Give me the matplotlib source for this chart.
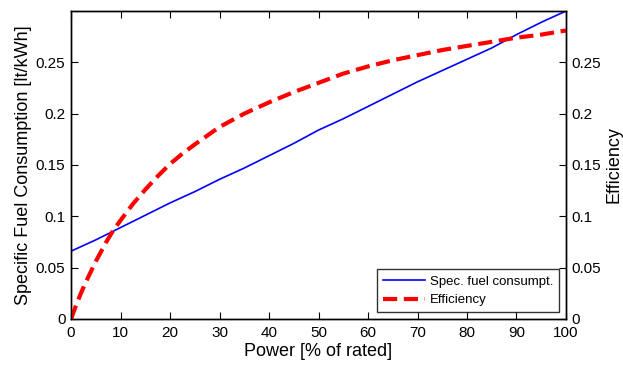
import matplotlib
matplotlib.use("Agg")
import matplotlib.pyplot as plt
import numpy as np

plt.rcParams['font.family'] = ['Liberation Sans', 'DejaVu Sans']

power = [0, 5, 10, 15, 20, 25, 30, 35, 40, 45, 50, 55, 60, 65, 70, 75, 80, 85, 90, 95, 100]
sfc = [0.066, 0.077, 0.089, 0.101, 0.113, 0.124, 0.136, 0.147, 0.159, 0.171, 0.184,
       0.195, 0.207, 0.219, 0.231, 0.242, 0.253, 0.264, 0.277, 0.289, 0.300]
eff_power = [0, 1, 2, 3, 5, 7, 8.5, 10, 12.5, 15, 17.5, 20, 22.5, 25, 30, 35, 40, 45, 50,
             55, 60, 65, 70, 75, 80, 85, 90, 95, 100]
eff = [0.0, 0.013, 0.025, 0.036, 0.056, 0.074, 0.086, 0.096, 0.112, 0.126, 0.139, 0.151,
       0.161, 0.170, 0.187, 0.200, 0.211, 0.221, 0.230, 0.239, 0.246, 0.252, 0.257,
       0.262, 0.266, 0.270, 0.274, 0.277, 0.281]

yticks = [0, 0.05, 0.1, 0.15, 0.2, 0.25]
ytick_labels = ['0', '0.05', '0.1', '0.15', '0.2', '0.25']
xticks = [0, 10, 20, 30, 40, 50, 60, 70, 80, 90, 100]

fig = plt.figure(figsize=(6.23, 3.67), dpi=100)
ax = fig.add_axes([0.114, 0.131, 0.7945, 0.839])
ax2 = ax.twinx()

l1, = ax.plot(power, sfc, color='#0000ff', lw=1.2, label='Spec. fuel consumpt.')
l2, = ax2.plot(eff_power, eff, color='#ff0000', lw=3.0, ls=(0, (3.4, 1.6)), label='Efficiency')

for a in (ax, ax2):
    a.set_xlim(0, 100)
    a.set_ylim(0, 0.3)
    a.set_yticks(yticks)
    a.set_yticklabels(ytick_labels)
    a.tick_params(direction='in', labelsize=11, length=5, width=0.8)
    for s in a.spines.values():
        s.set_linewidth(1.0)

ax.set_xticks(xticks)
ax.tick_params(axis='x', top=True, pad=5)
ax.tick_params(axis='y', pad=4)
ax2.tick_params(axis='y', pad=4)

ax.set_xlabel('Power [% of rated]', fontsize=13, labelpad=2)
ax.set_ylabel('Specific Fuel Consumption [lt/kWh]', fontsize=13, labelpad=3)
ax2.set_ylabel('Efficiency', fontsize=13, labelpad=3)

leg = ax2.legend([l1, l2], ['Spec. fuel consumpt.', 'Efficiency'], loc='lower right',
                 fontsize=9.5, frameon=True, fancybox=False, edgecolor='black',
                 borderaxespad=0.5, handlelength=3.2, handletextpad=0.4,
                 borderpad=0.45, labelspacing=0.5)
leg.get_frame().set_linewidth(1.0)

fig.savefig('out.png', dpi=100)
